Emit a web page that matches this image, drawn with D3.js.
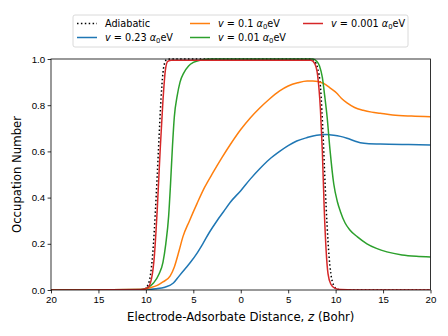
<!DOCTYPE html>
<html lang="en">
<head>
<meta charset="UTF-8">
<title>Occupation Number</title>
<script src="https://d3js.org/d3.v7.min.js"></script>
<style>
    body { margin: 0; background: #fff; }
    svg { display: block; font-family: "DejaVu Sans", sans-serif; }
    .tick text { font-size: 9.7px; fill: #000; }
    .tick line, .domain { stroke: #000; stroke-width: 0.8px; }
</style>
</head>
<body>
<svg width="448" height="336"></svg>
<script>
// t: position along the path (-20 = far, approaching; 0 = closest; 20 = far, leaving)
const adiabaticT = [-20, -11, -10.2, -9.8, -9.5, -9.2, -9.0, -8.8, -8.6, -8.4, -8.2, -8.0, -7.8, -7.4, 7.4, 7.8, 8.1, 8.4, 8.7, 8.9, 9.1, 9.3, 9.5, 9.8, 10.2, 11, 20];
const adiabaticV = [0, 0, 0.004, 0.02, 0.07, 0.2, 0.34, 0.5, 0.67, 0.83, 0.94, 0.985, 0.997, 1, 1, 0.99, 0.96, 0.88, 0.65, 0.45, 0.28, 0.15, 0.07, 0.02, 0.003, 0, 0];

const blueT = [-20, -10.5, -9, -8, -7.1, -6.5, -5.9, -5.3, -4.6, -4.0, -3.3, -2.5, -1.8, -1.1, 0, 1, 2, 3, 4.1, 5, 5.9, 7, 8, 9, 9.8, 10.5, 11.2, 12, 12.6, 13.5, 14.7, 17, 20];
const blueV = [0, 0.001, 0.005, 0.012, 0.03, 0.06, 0.09, 0.12, 0.16, 0.2, 0.25, 0.3, 0.34, 0.38, 0.43, 0.48, 0.525, 0.565, 0.6, 0.625, 0.645, 0.66, 0.67, 0.673, 0.67, 0.665, 0.657, 0.645, 0.637, 0.633, 0.632, 0.63, 0.628];

const orangeT = [-20, -10.5, -9.5, -8.8, -8.2, -7.45, -7.0, -6.5, -6.1, -5.4, -4.6, -3.8, -2.9, -2, -1.1, 0, 1, 2, 3, 4.1, 5, 6, 7, 7.6, 8.7, 9.4, 10.1, 10.6, 11.2, 12, 12.9, 13.8, 14.7, 16, 18, 20];
const orangeV = [0, 0.002, 0.01, 0.02, 0.035, 0.06, 0.1, 0.17, 0.23, 0.3, 0.375, 0.445, 0.51, 0.572, 0.63, 0.695, 0.745, 0.788, 0.826, 0.862, 0.883, 0.897, 0.905, 0.905, 0.895, 0.875, 0.853, 0.83, 0.81, 0.79, 0.778, 0.77, 0.765, 0.758, 0.753, 0.75];

const greenT = [-20, -10.5, -9.8, -9.2, -8.6, -8.2, -7.9, -7.6, -7.4, -7.2, -7.0, -6.7, -6.4, -6.0, -5.5, -5.0, -4.3, -3, 7.6, 8.0, 8.3, 8.6, 8.85, 9.1, 9.4, 9.8, 10.2, 10.5, 11, 11.5, 12.3, 13.3, 14.3, 15.4, 17, 18.5, 20];
const greenV = [0, 0.002, 0.01, 0.03, 0.07, 0.12, 0.2, 0.32, 0.46, 0.62, 0.75, 0.84, 0.9, 0.94, 0.97, 0.985, 0.995, 1, 1, 0.99, 0.97, 0.92, 0.84, 0.75, 0.61, 0.46, 0.38, 0.34, 0.29, 0.26, 0.23, 0.2, 0.18, 0.165, 0.152, 0.146, 0.143];

const redT = [-20, -10.5, -9.8, -9.4, -9.1, -8.8, -8.5, -8.2, -7.95, -7.7, -7.3, 7.4, 7.8, 8.1, 8.4, 8.6, 8.8, 9.0, 9.2, 9.5, 9.9, 10.5, 12, 20];
const redV = [0, 0.002, 0.01, 0.05, 0.15, 0.35, 0.6, 0.82, 0.95, 0.99, 0.995, 0.995, 0.98, 0.93, 0.78, 0.6, 0.35, 0.17, 0.07, 0.025, 0.008, 0.002, 0, 0];

const seriesNames = ["Adiabatic", "0.23", "0.1", "0.01", "0.001"];
const colors = ["#000000", "#1f77b4", "#ff7f0e", "#2ca02c", "#d62728"];
const xTicks = [-20, -15, -10, -5, 0, 5, 10, 15, 20];
const yTicks = [0, 0.2, 0.4, 0.6, 0.8, 1.0];

const seriesT = [adiabaticT, blueT, orangeT, greenT, redT];
const seriesV = [adiabaticV, blueV, orangeV, greenV, redV];

const svg = d3.select("svg");
const m = { left: 51, right: 430.5, top: 59, bottom: 290 };

const x = d3.scaleLinear().domain([-20, 20]).range([m.left, m.right]);
const y = d3.scaleLinear().domain([0, 1]).range([m.bottom, m.top]);

// clip
svg.append("clipPath").attr("id", "clip").append("rect")
    .attr("x", m.left).attr("y", m.top - 2).attr("width", m.right - m.left).attr("height", m.bottom - m.top + 2);

const line = d3.line().x(d => x(d[0])).y(d => y(d[1])).curve(d3.curveMonotoneX);

const plot = svg.append("g").attr("clip-path", "url(#clip)");
seriesT.forEach((ts, i) => {
    const pts = ts.map((t, j) => [t, seriesV[i][j]]);
    plot.append("path")
        .attr("d", line(pts))
        .attr("fill", "none")
        .attr("stroke", colors[i])
        .attr("stroke-width", 1.5)
        .attr("stroke-dasharray", i === 0 ? "1.5,2.4" : null)
        .attr("stroke-linejoin", "round");
});

// axes
svg.append("g").attr("transform", `translate(0,${m.bottom})`)
    .call(d3.axisBottom(x).tickValues(xTicks).tickFormat(d => Math.abs(d)).tickSize(3.4).tickPadding(2.5));
svg.append("g").attr("transform", `translate(${m.left},0)`)
    .call(d3.axisLeft(y).tickValues(yTicks).tickFormat(d3.format(".1f")).tickSize(3.4).tickPadding(2.5));

svg.selectAll(".domain").remove();
// spines
svg.append("rect").attr("x", m.left).attr("y", m.top).attr("width", m.right - m.left).attr("height", m.bottom - m.top)
    .attr("fill", "none").attr("stroke", "#000").attr("stroke-width", 0.8);

// axis labels
const xl = svg.append("text").attr("x", (m.left + m.right) / 2).attr("y", 320.5)
    .attr("text-anchor", "middle").attr("font-size", 11.7);
xl.append("tspan").text("Electrode-Adsorbate Distance, ");
xl.append("tspan").attr("font-style", "italic").text("z");
xl.append("tspan").text(" (Bohr)");

svg.append("text").attr("transform", `translate(21,${(m.top + m.bottom) / 2}) rotate(-90)`)
    .attr("text-anchor", "middle").attr("font-size", 11.7).text("Occupation Number");

// legend
const lg = svg.append("g");
lg.append("rect").attr("x", 73).attr("y", 15).attr("width", 335).attr("height", 32).attr("rx", 2)
    .attr("fill", "#fff").attr("fill-opacity", 0.8).attr("stroke", "#d0d0d0").attr("stroke-width", 0.8);
const legPos = [[77, 23.5], [77, 37.5], [190, 23.5], [190, 37.5], [303, 23.5]];
seriesNames.forEach((name, i) => {
    const [lx, ly] = legPos[i];
    lg.append("line").attr("x1", lx).attr("x2", lx + 20).attr("y1", ly).attr("y2", ly)
        .attr("stroke", colors[i]).attr("stroke-width", 1.5)
        .attr("stroke-dasharray", i === 0 ? "1.5,2.4" : null);
    const t = lg.append("text").attr("x", lx + 28).attr("y", ly + 3.5).attr("font-size", 9.7);
    if (i === 0) {
        t.text(name);
    } else {
        t.append("tspan").attr("font-style", "italic").text("v");
        t.append("tspan").text(" = " + name + " ");
        t.append("tspan").attr("font-style", "italic").text("α");
        t.append("tspan").attr("font-size", 6.8).attr("dy", 2).text("0");
        t.append("tspan").attr("dy", -2).text("eV");
    }
});
</script>
</body>
</html>
